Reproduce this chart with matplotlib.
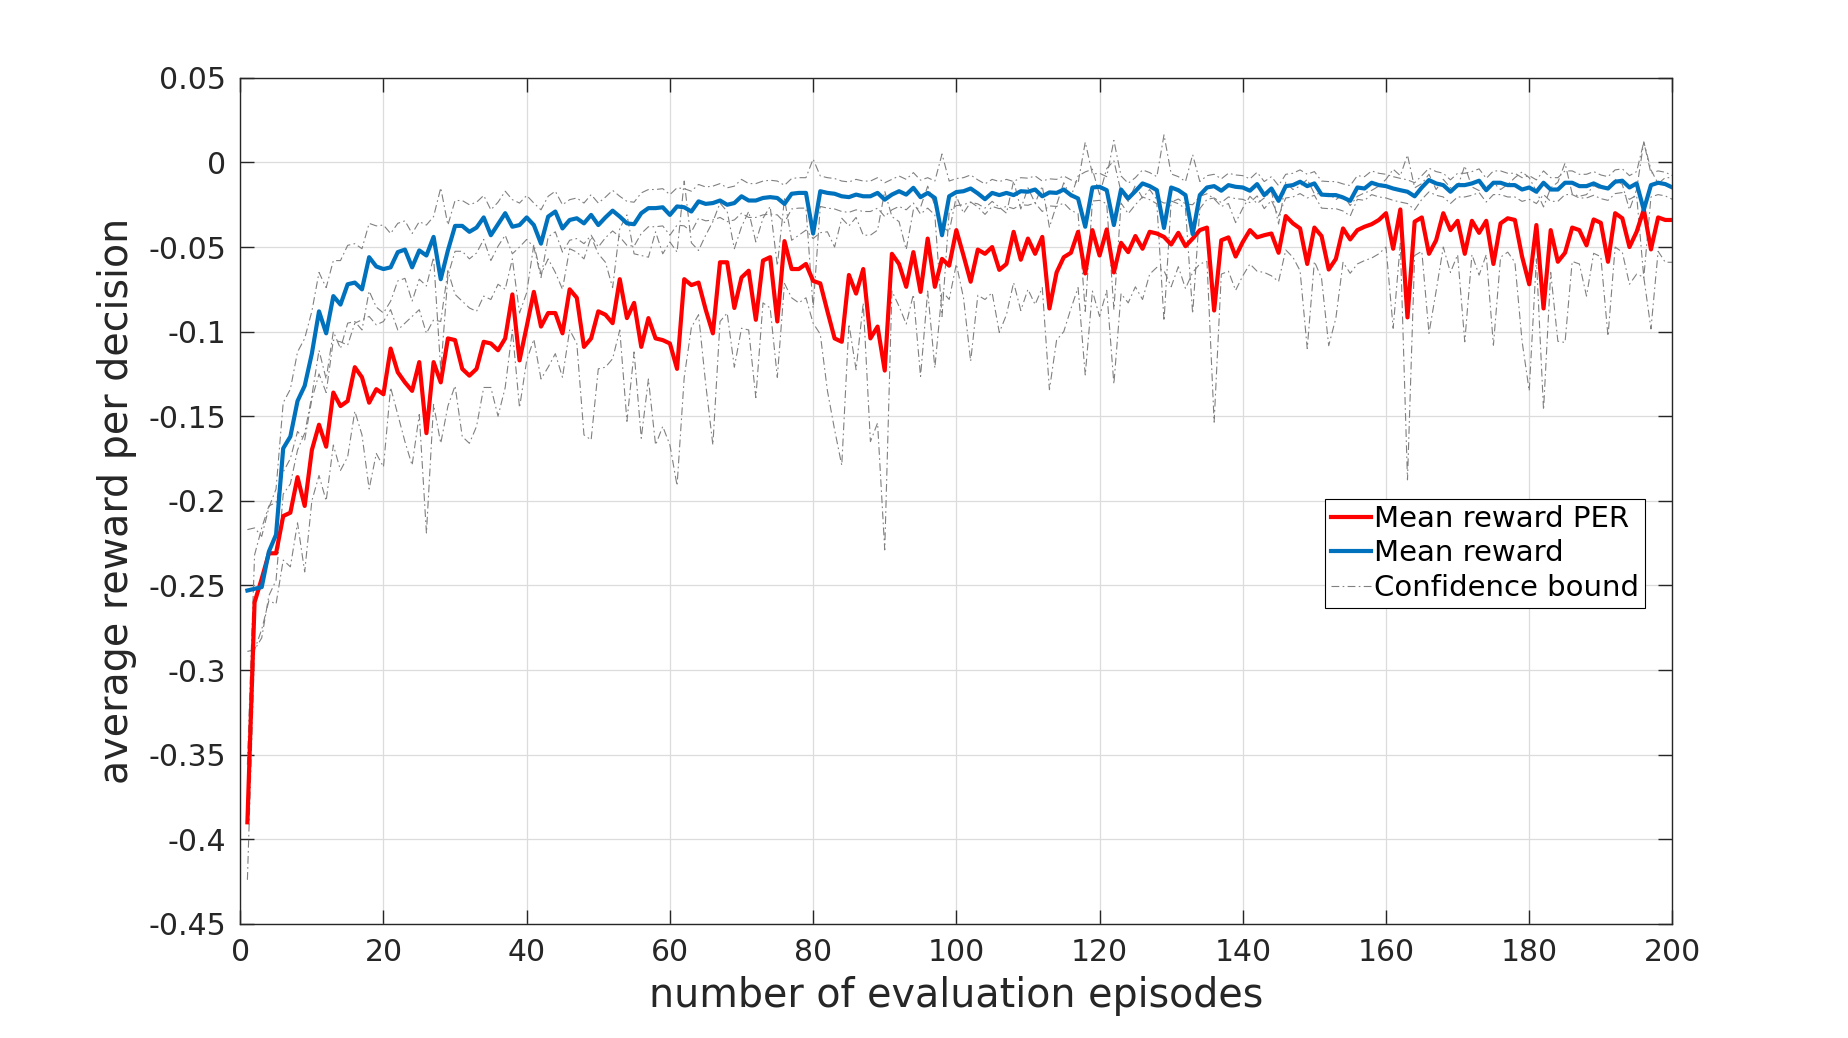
import numpy as np
import matplotlib
matplotlib.use("Agg")
import matplotlib.pyplot as plt
from matplotlib.lines import Line2D

# region DATA
episodes = list(range(1, 201))

# mean reward with prioritized experience replay (red)
reward_per = [
    -0.390, -0.260, -0.246, -0.231, -0.231, -0.209, -0.207, -0.186, -0.203, -0.170,
    -0.155, -0.168, -0.136, -0.144, -0.141, -0.121, -0.127, -0.142, -0.134, -0.137,
    -0.110, -0.124, -0.130, -0.135, -0.118, -0.160, -0.118, -0.130, -0.104, -0.105,
    -0.122, -0.126, -0.122, -0.106, -0.107, -0.111, -0.104, -0.078, -0.117, -0.097,
    -0.0765, -0.097, -0.089, -0.089, -0.101, -0.075, -0.080, -0.109, -0.104, -0.088,
    -0.090, -0.095, -0.069, -0.092, -0.083, -0.109, -0.092, -0.104, -0.105, -0.107,
    -0.122, -0.069, -0.0725, -0.071, -0.087, -0.101, -0.059, -0.059, -0.086, -0.068,
    -0.064, -0.093, -0.058, -0.056, -0.094, -0.0465, -0.063, -0.063, -0.060, -0.070,
    -0.0715, -0.088, -0.104, -0.106, -0.0665, -0.0775, -0.063, -0.104, -0.097, -0.123,
    -0.054, -0.060, -0.0735, -0.053, -0.0765, -0.045, -0.0735, -0.057, -0.061, -0.040,
    -0.055, -0.0705, -0.0515, -0.054, -0.050, -0.0635, -0.060, -0.041, -0.0575, -0.045,
    -0.054, -0.044, -0.0863, -0.065, -0.056, -0.0534, -0.041, -0.0656, -0.040, -0.055,
    -0.0396, -0.065, -0.0475, -0.053, -0.0435, -0.051, -0.041, -0.042, -0.044, -0.0485,
    -0.0416, -0.0495, -0.045, -0.040, -0.0385, -0.0875, -0.046, -0.0443, -0.0556, -0.047,
    -0.040, -0.0443, -0.043, -0.042, -0.0534, -0.0317, -0.036, -0.039, -0.060, -0.0385,
    -0.0435, -0.0633, -0.057, -0.039, -0.0455, -0.040, -0.038, -0.0365, -0.034, -0.030,
    -0.051, -0.0278, -0.0916, -0.035, -0.0325, -0.054, -0.046, -0.030, -0.040, -0.0345,
    -0.054, -0.0345, -0.0416, -0.0345, -0.060, -0.036, -0.033, -0.034, -0.0556, -0.072,
    -0.037, -0.0863, -0.040, -0.0587, -0.0534, -0.0385, -0.040, -0.049, -0.0337, -0.0357,
    -0.0587, -0.030, -0.033, -0.050, -0.041, -0.0278, -0.0514, -0.0325, -0.034, -0.034,
]

# mean reward (blue)
reward = [
    -0.253, -0.252, -0.251, -0.230, -0.220, -0.169, -0.162, -0.141, -0.132, -0.113,
    -0.088, -0.101, -0.079, -0.084, -0.072, -0.071, -0.075, -0.056, -0.0615, -0.063,
    -0.062, -0.053, -0.0515, -0.062, -0.052, -0.055, -0.044, -0.069, -0.052, -0.0375,
    -0.0375, -0.041, -0.0385, -0.0325, -0.043, -0.0365, -0.030, -0.038, -0.037, -0.0325,
    -0.037, -0.048, -0.032, -0.029, -0.039, -0.034, -0.033, -0.036, -0.031, -0.037,
    -0.0325, -0.0285, -0.032, -0.036, -0.0365, -0.030, -0.027, -0.027, -0.0265, -0.031,
    -0.026, -0.0265, -0.029, -0.023, -0.0245, -0.024, -0.0225, -0.025, -0.024, -0.020,
    -0.0225, -0.0225, -0.021, -0.0205, -0.021, -0.0245, -0.0185, -0.018, -0.018, -0.042,
    -0.017, -0.018, -0.0185, -0.020, -0.0205, -0.019, -0.020, -0.020, -0.018, -0.022,
    -0.019, -0.017, -0.019, -0.015, -0.0205, -0.018, -0.021, -0.043, -0.020, -0.0175,
    -0.017, -0.0154, -0.0183, -0.0217, -0.018, -0.0193, -0.018, -0.0193, -0.017, -0.0173,
    -0.016, -0.020, -0.0177, -0.018, -0.016, -0.0193, -0.0213, -0.038, -0.0148, -0.0144,
    -0.0164, -0.037, -0.016, -0.0213, -0.017, -0.0124, -0.014, -0.0164, -0.0387, -0.0148,
    -0.0164, -0.0193, -0.0424, -0.0193, -0.0148, -0.014, -0.0167, -0.0134, -0.0144, -0.0148,
    -0.0167, -0.0128, -0.0193, -0.0154, -0.0227, -0.014, -0.0134, -0.0114, -0.014, -0.0124,
    -0.019, -0.0193, -0.0193, -0.0207, -0.0227, -0.0148, -0.0154, -0.012, -0.0134, -0.014,
    -0.0154, -0.0164, -0.0173, -0.020, -0.0148, -0.0104, -0.0124, -0.0134, -0.0173, -0.0134,
    -0.0134, -0.0124, -0.0108, -0.0164, -0.012, -0.012, -0.0134, -0.0134, -0.016, -0.0148,
    -0.0173, -0.012, -0.016, -0.016, -0.012, -0.012, -0.014, -0.014, -0.0124, -0.0144,
    -0.0154, -0.0114, -0.0108, -0.0148, -0.0124, -0.028, -0.0134, -0.012, -0.0128, -0.0148,
]

# half width of the confidence band around each mean
ci_per = [
    0.034, 0.028, 0.030, 0.028, 0.030, 0.026, 0.032, 0.027, 0.039, 0.030,
    0.030, 0.032, 0.031, 0.038, 0.033, 0.026, 0.034, 0.051, 0.038, 0.043,
    0.023, 0.025, 0.035, 0.044, 0.031, 0.059, 0.025, 0.036, 0.040, 0.027,
    0.040, 0.040, 0.034, 0.027, 0.026, 0.039, 0.029, 0.021, 0.028, 0.020,
    0.028, 0.031, 0.032, 0.024, 0.026, 0.024, 0.027, 0.052, 0.060, 0.034,
    0.031, 0.021, 0.030, 0.061, 0.029, 0.054, 0.036, 0.063, 0.051, 0.060,
    0.069, 0.058, 0.025, 0.019, 0.044, 0.066, 0.035, 0.030, 0.035, 0.030,
    0.035, 0.046, 0.025, 0.030, 0.033, 0.025, 0.017, 0.020, 0.020, 0.025,
    0.030, 0.047, 0.054, 0.073, 0.029, 0.045, 0.020, 0.061, 0.057, 0.106,
    0.022, 0.025, 0.022, 0.025, 0.050, 0.031, 0.048, 0.019, 0.020, 0.020,
    0.025, 0.047, 0.027, 0.027, 0.027, 0.037, 0.030, 0.030, 0.030, 0.030,
    0.030, 0.030, 0.048, 0.040, 0.044, 0.033, 0.033, 0.060, 0.036, 0.036,
    0.036, 0.066, 0.030, 0.030, 0.030, 0.030, 0.025, 0.020, 0.020, 0.025,
    0.020, 0.025, 0.020, 0.020, 0.020, 0.066, 0.020, 0.020, 0.020, 0.020,
    0.020, 0.020, 0.022, 0.025, 0.017, 0.020, 0.020, 0.025, 0.050, 0.020,
    0.025, 0.045, 0.035, 0.020, 0.020, 0.020, 0.020, 0.020, 0.020, 0.020,
    0.047, 0.020, 0.096, 0.020, 0.020, 0.047, 0.030, 0.020, 0.025, 0.020,
    0.052, 0.020, 0.025, 0.020, 0.048, 0.020, 0.020, 0.025, 0.050, 0.063,
    0.020, 0.060, 0.025, 0.047, 0.053, 0.020, 0.020, 0.030, 0.020, 0.020,
    0.044, 0.020, 0.020, 0.022, 0.025, 0.040, 0.047, 0.020, 0.025, 0.025,
]

ci_base = [
    0.036, 0.036, 0.030, 0.026, 0.027, 0.027, 0.028, 0.029, 0.028, 0.025,
    0.023, 0.027, 0.021, 0.026, 0.023, 0.023, 0.024, 0.020, 0.024, 0.026,
    0.020, 0.017, 0.017, 0.020, 0.017, 0.018, 0.012, 0.054, 0.015, 0.015,
    0.015, 0.016, 0.015, 0.013, 0.015, 0.013, 0.013, 0.016, 0.013, 0.013,
    0.013, 0.020, 0.012, 0.012, 0.014, 0.012, 0.012, 0.012, 0.012, 0.013,
    0.012, 0.012, 0.012, 0.013, 0.013, 0.012, 0.011, 0.011, 0.011, 0.012,
    0.011, 0.011, 0.012, 0.010, 0.010, 0.010, 0.010, 0.010, 0.010, 0.010,
    0.010, 0.010, 0.010, 0.010, 0.010, 0.011, 0.009, 0.009, 0.009, 0.044,
    0.009, 0.009, 0.009, 0.009, 0.009, 0.009, 0.009, 0.009, 0.009, 0.010,
    0.009, 0.009, 0.009, 0.009, 0.010, 0.009, 0.010, 0.048, 0.009, 0.008,
    0.008, 0.008, 0.008, 0.009, 0.008, 0.008, 0.008, 0.008, 0.008, 0.008,
    0.008, 0.009, 0.008, 0.008, 0.008, 0.009, 0.009, 0.050, 0.008, 0.008,
    0.008, 0.050, 0.008, 0.009, 0.008, 0.008, 0.008, 0.008, 0.055, 0.008,
    0.008, 0.008, 0.047, 0.008, 0.007, 0.007, 0.007, 0.007, 0.007, 0.007,
    0.007, 0.007, 0.008, 0.007, 0.009, 0.007, 0.007, 0.007, 0.007, 0.007,
    0.008, 0.008, 0.008, 0.008, 0.009, 0.007, 0.007, 0.007, 0.007, 0.007,
    0.007, 0.007, 0.007, 0.008, 0.007, 0.007, 0.007, 0.007, 0.007, 0.007,
    0.007, 0.007, 0.007, 0.007, 0.007, 0.007, 0.007, 0.007, 0.007, 0.007,
    0.007, 0.007, 0.007, 0.007, 0.007, 0.007, 0.007, 0.007, 0.007, 0.007,
    0.007, 0.007, 0.007, 0.007, 0.007, 0.040, 0.007, 0.007, 0.007, 0.007,
]

xticks = list(range(0, 201, 20))
yticks = [-0.45, -0.4, -0.35, -0.3, -0.25, -0.2, -0.15, -0.1, -0.05, 0, 0.05]
ytick_labels = ["-0.45", "-0.4", "-0.35", "-0.3", "-0.25", "-0.2", "-0.15",
                "-0.1", "-0.05", "0", "0.05"]
# endregion

# region PLOT
plt.rcParams['font.family'] = ['DejaVu Sans']
plt.rcParams['axes.unicode_minus'] = False

txt = '#262626'
red = '#ff0000'
blue = '#0072bd'
grey = '#808080'

fig = plt.figure(figsize=(18.48, 10.38), dpi=100)
ax = fig.add_axes([0.13, 0.11, 0.775, 0.815])

x = np.array(episodes)
per = np.array(reward_per)
base = np.array(reward)
hw_per = np.array(ci_per)
hw_base = np.array(ci_base)

dashdot = (0, (7, 3, 1.5, 3))
for curve in [base + hw_base, base - hw_base, per + hw_per, per - hw_per]:
    ax.plot(x, curve, color=grey, linewidth=0.8, linestyle=dashdot, zorder=2)

ax.plot(x, per, color=red, linewidth=3, zorder=3)
ax.plot(x, base, color=blue, linewidth=3, zorder=3)

ax.set_xlim(0, 200)
ax.set_ylim(-0.45, 0.05)
ax.set_xticks(xticks)
ax.set_yticks(yticks)
ax.set_yticklabels(ytick_labels)

ax.grid(True, color='#dcdcdc', linewidth=0.9)
ax.set_axisbelow(True)
ax.tick_params(direction='in', length=10, width=1, top=True, right=True,
               labelsize=21.5, colors=txt, pad=10)
for sp in ax.spines.values():
    sp.set_color(txt)
    sp.set_linewidth(1)

ax.set_xlabel("number of evaluation episodes", fontsize=28.5, color=txt, labelpad=7)
ax.set_ylabel("average reward per decision", fontsize=28.5, color=txt, labelpad=8)

handles = [
    Line2D([], [], color=red, linewidth=3),
    Line2D([], [], color=blue, linewidth=3),
    Line2D([], [], color=grey, linewidth=0.8, linestyle=dashdot),
]
labels = ["Mean reward PER", "Mean reward", "Confidence bound"]
leg = ax.legend(handles, labels, loc='upper right', bbox_to_anchor=(0.981, 0.502),
                fontsize=21, fancybox=False, framealpha=1, edgecolor='#000000',
                handlelength=1.4, handletextpad=0.1, labelspacing=0.22,
                borderpad=0.2, borderaxespad=0)
leg.get_frame().set_linewidth(0.8)

plt.savefig("out.png", dpi=100)
# endregion
